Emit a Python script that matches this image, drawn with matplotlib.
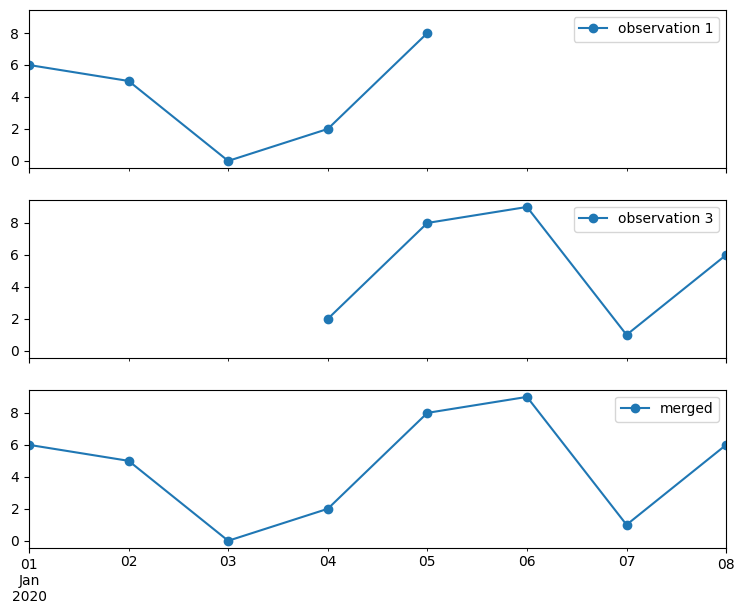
import numpy as np
import pandas as pd
import matplotlib.pyplot as plt

obs1_dates = ['2020-01-01', '2020-01-02', '2020-01-03', '2020-01-04', '2020-01-05']
obs1_values = [6, 5, 0, 2, 8]
obs3_dates = ['2020-01-04', '2020-01-05', '2020-01-06', '2020-01-07', '2020-01-08']
obs3_values = [2, 8, 9, 1, 6]
merged_dates = ['2020-01-01', '2020-01-02', '2020-01-03', '2020-01-04',
                '2020-01-05', '2020-01-06', '2020-01-07', '2020-01-08']
merged_values = [6, 5, 0, 2, 8, 9, 1, 6]


def make_series(dates, values, name):
    idx = pd.DatetimeIndex(dates, freq='D')
    return pd.Series(values, index=idx, name=name)


obs1 = make_series(obs1_dates, obs1_values, 'observation 1')
obs3 = make_series(obs3_dates, obs3_values, 'observation 3')
merged = make_series(merged_dates, merged_values, 'merged')

full_index = merged.index

fig, axes = plt.subplots(3, 1, figsize=(7.44, 6.15), sharex=True, sharey=True)
for ax, s in zip(axes, [obs1, obs3, merged]):
    s.reindex(full_index).plot(ax=ax, marker='o', legend=True)
    ax.set_xlabel('')

fig.subplots_adjust(left=0.039, right=0.976, top=0.984, bottom=0.109, hspace=0.2)
plt.savefig('out.png', dpi=100)
